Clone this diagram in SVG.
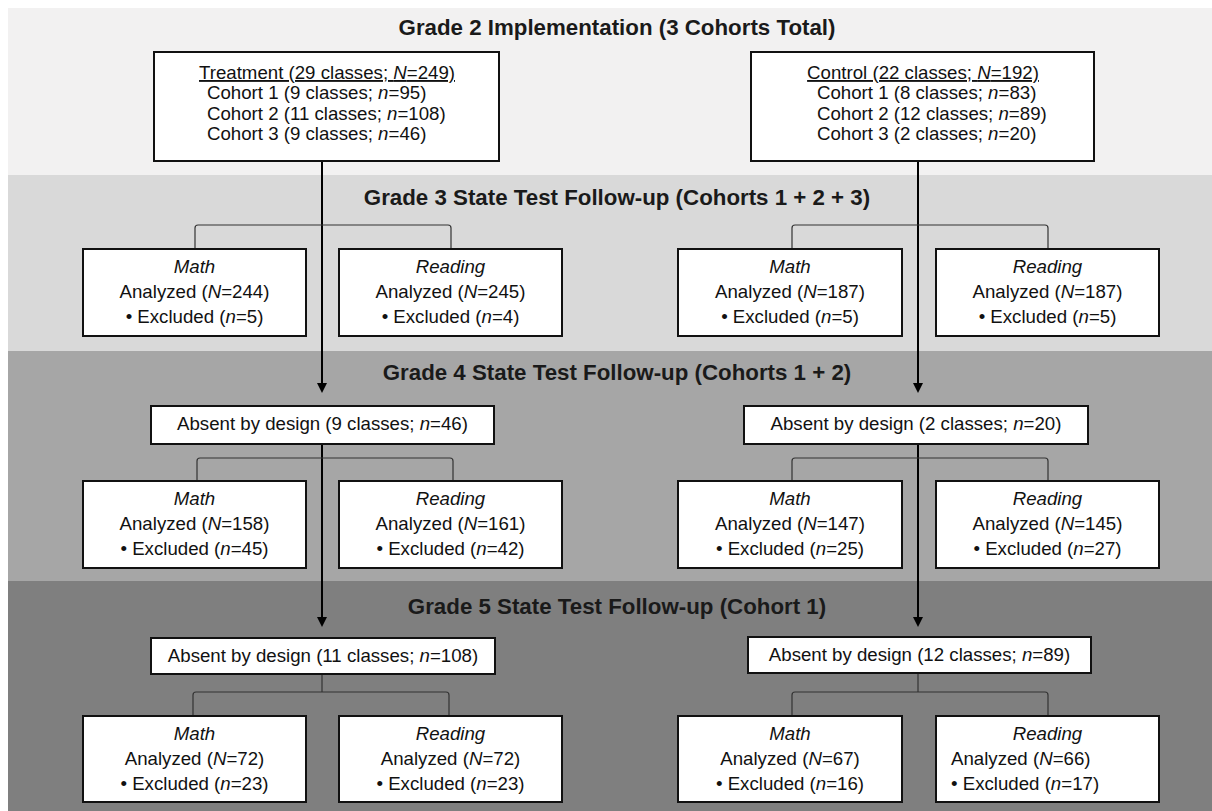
<svg xmlns="http://www.w3.org/2000/svg" width="1212" height="811" viewBox="0 0 1212 811">
<defs>
<marker id="ah" viewBox="0 0 10 10" refX="6" refY="5" markerWidth="10" markerHeight="10" markerUnits="userSpaceOnUse" orient="auto">
<path d="M0,0 L10,5 L0,10 z" fill="#000"/>
</marker>
</defs>
<style>
.t{font-family:"Liberation Sans",Arial,sans-serif;font-size:18.67px;fill:#111}
.c{text-anchor:middle}
.title{font-family:"Liberation Sans",Arial,sans-serif;font-size:22.3px;font-weight:bold;fill:#1a1a1a;text-anchor:middle}
.i{font-style:italic}
.box{fill:#fff;stroke:#111;stroke-width:2}
.arrow{stroke:#000;stroke-width:2;fill:none}
.br{stroke:#333;stroke-width:1.2;fill:none}
</style>
<rect x="0" y="0" width="1212" height="811" fill="#fff"/>
<g id="bands">
<rect x="8" y="8" width="1204" height="167" fill="#f2f1f1"/>
<rect x="8" y="175" width="1204" height="176" fill="#d9d9d9"/>
<rect x="8" y="351" width="1204" height="230" fill="#a6a6a6"/>
<rect x="8" y="581" width="1204" height="230" fill="#7f7f7f"/>
</g>
<g id="titles">
<text class="title" x="617" y="35">Grade 2 Implementation (3 Cohorts Total)</text>
<text class="title" x="617" y="205">Grade 3 State Test Follow-up (Cohorts 1 + 2 + 3)</text>
<text class="title" x="617" y="380">Grade 4 State Test Follow-up (Cohorts 1 + 2)</text>
<text class="title" x="617" y="614">Grade 5 State Test Follow-up (Cohort 1)</text>
</g>
<g id="connectors">
<line class="arrow" x1="322" y1="161" x2="322" y2="389" marker-end="url(#ah)"/>
<line class="arrow" x1="322" y1="444" x2="322" y2="623" marker-end="url(#ah)"/>
<line class="arrow" x1="918" y1="161" x2="918" y2="389" marker-end="url(#ah)"/>
<line class="arrow" x1="918" y1="444" x2="918" y2="623" marker-end="url(#ah)"/>
<path class="br" d="M195,249 V228 Q195,225 198,225 H448 Q451,225 451,228 V249"/>
<path class="br" d="M792,249 V228 Q792,225 795,225 H1045 Q1048,225 1048,228 V249"/>
<path class="br" d="M197,481 V461 Q197,458 200,458 H450 Q453,458 453,461 V481"/>
<path class="br" d="M792,481 V461 Q792,458 795,458 H1045 Q1048,458 1048,461 V481"/>
<path class="br" d="M322,674 V692"/>
<path class="br" d="M193,716 V695 Q193,692 196,692 H446 Q449,692 449,695 V716"/>
<path class="br" d="M918,673 V692"/>
<path class="br" d="M792,716 V695 Q792,692 795,692 H1045 Q1048,692 1048,695 V716"/>
</g>
<g id="treatment">
<rect class="box" x="154" y="52" width="345" height="109"/>
<text class="t c" x="327" y="79" text-decoration="underline">Treatment (29 classes; <tspan class="i">N</tspan>=249)</text>
<text class="t" x="207" y="99">Cohort 1 (9 classes; <tspan class="i">n</tspan>=95)</text>
<text class="t" x="207" y="120">Cohort 2 (11 classes; <tspan class="i">n</tspan>=108)</text>
<text class="t" x="207" y="140">Cohort 3 (9 classes; <tspan class="i">n</tspan>=46)</text>
</g>
<g id="control">
<rect class="box" x="751" y="52" width="343" height="109"/>
<text class="t c" x="923" y="79" text-decoration="underline">Control (22 classes; <tspan class="i">N</tspan>=192)</text>
<text class="t" x="817" y="99">Cohort 1 (8 classes; <tspan class="i">n</tspan>=83)</text>
<text class="t" x="817" y="120">Cohort 2 (12 classes; <tspan class="i">n</tspan>=89)</text>
<text class="t" x="817" y="140">Cohort 3 (2 classes; <tspan class="i">n</tspan>=20)</text>
</g>
<g id="g3-t-math">
<rect class="box" x="83" y="249" width="223" height="87"/>
<text class="t c i" x="194.5" y="273">Math</text>
<text class="t c" x="194.5" y="298">Analyzed (<tspan class="i">N</tspan>=244)</text>
<text class="t c" x="194.5" y="323">• Excluded (<tspan class="i">n</tspan>=5)</text>
</g>
<g id="g3-t-reading">
<rect class="box" x="339" y="249" width="223" height="87"/>
<text class="t c i" x="450.5" y="273">Reading</text>
<text class="t c" x="450.5" y="298">Analyzed (<tspan class="i">N</tspan>=245)</text>
<text class="t c" x="450.5" y="323">• Excluded (<tspan class="i">n</tspan>=4)</text>
</g>
<g id="g3-c-math">
<rect class="box" x="678" y="249" width="224" height="87"/>
<text class="t c i" x="790" y="273">Math</text>
<text class="t c" x="790" y="298">Analyzed (<tspan class="i">N</tspan>=187)</text>
<text class="t c" x="790" y="323">• Excluded (<tspan class="i">n</tspan>=5)</text>
</g>
<g id="g3-c-reading">
<rect class="box" x="936" y="249" width="223" height="87"/>
<text class="t c i" x="1047.5" y="273">Reading</text>
<text class="t c" x="1047.5" y="298">Analyzed (<tspan class="i">N</tspan>=187)</text>
<text class="t c" x="1047.5" y="323">• Excluded (<tspan class="i">n</tspan>=5)</text>
</g>
<g id="g4-t-absent">
<rect class="box" x="151" y="406" width="343" height="38"/>
<text class="t c" x="322.5" y="430">Absent by design (9 classes; <tspan class="i">n</tspan>=46)</text>
</g>
<g id="g4-c-absent">
<rect class="box" x="744" y="406" width="344" height="38"/>
<text class="t c" x="916" y="430">Absent by design (2 classes; <tspan class="i">n</tspan>=20)</text>
</g>
<g id="g4-t-math">
<rect class="box" x="83" y="481" width="223" height="87"/>
<text class="t c i" x="194.5" y="505">Math</text>
<text class="t c" x="194.5" y="530">Analyzed (<tspan class="i">N</tspan>=158)</text>
<text class="t c" x="194.5" y="555">• Excluded (<tspan class="i">n</tspan>=45)</text>
</g>
<g id="g4-t-reading">
<rect class="box" x="339" y="481" width="223" height="87"/>
<text class="t c i" x="450.5" y="505">Reading</text>
<text class="t c" x="450.5" y="530">Analyzed (<tspan class="i">N</tspan>=161)</text>
<text class="t c" x="450.5" y="555">• Excluded (<tspan class="i">n</tspan>=42)</text>
</g>
<g id="g4-c-math">
<rect class="box" x="678" y="481" width="224" height="87"/>
<text class="t c i" x="790" y="505">Math</text>
<text class="t c" x="790" y="530">Analyzed (<tspan class="i">N</tspan>=147)</text>
<text class="t c" x="790" y="555">• Excluded (<tspan class="i">n</tspan>=25)</text>
</g>
<g id="g4-c-reading">
<rect class="box" x="936" y="481" width="223" height="87"/>
<text class="t c i" x="1047.5" y="505">Reading</text>
<text class="t c" x="1047.5" y="530">Analyzed (<tspan class="i">N</tspan>=145)</text>
<text class="t c" x="1047.5" y="555">• Excluded (<tspan class="i">n</tspan>=27)</text>
</g>
<g id="g5-t-absent">
<rect class="box" x="151" y="638" width="344" height="36"/>
<text class="t c" x="323" y="662">Absent by design (11 classes; <tspan class="i">n</tspan>=108)</text>
</g>
<g id="g5-c-absent">
<rect class="box" x="748" y="637" width="343" height="36"/>
<text class="t c" x="919.5" y="661">Absent by design (12 classes; <tspan class="i">n</tspan>=89)</text>
</g>
<g id="g5-t-math">
<rect class="box" x="83" y="716" width="223" height="86"/>
<text class="t c i" x="194.5" y="740">Math</text>
<text class="t c" x="194.5" y="765">Analyzed (<tspan class="i">N</tspan>=72)</text>
<text class="t c" x="194.5" y="790">• Excluded (<tspan class="i">n</tspan>=23)</text>
</g>
<g id="g5-t-reading">
<rect class="box" x="339" y="716" width="223" height="86"/>
<text class="t c i" x="450.5" y="740">Reading</text>
<text class="t c" x="450.5" y="765">Analyzed (<tspan class="i">N</tspan>=72)</text>
<text class="t c" x="450.5" y="790">• Excluded (<tspan class="i">n</tspan>=23)</text>
</g>
<g id="g5-c-math">
<rect class="box" x="678" y="716" width="224" height="86"/>
<text class="t c i" x="790" y="740">Math</text>
<text class="t c" x="790" y="765">Analyzed (<tspan class="i">N</tspan>=67)</text>
<text class="t c" x="790" y="790">• Excluded (<tspan class="i">n</tspan>=16)</text>
</g>
<g id="g5-c-reading">
<rect class="box" x="936" y="716" width="223" height="86"/>
<text class="t c i" x="1047.5" y="740">Reading</text>
<text class="t" x="951" y="765">Analyzed (<tspan class="i">N</tspan>=66)</text>
<text class="t" x="951" y="790">• Excluded (<tspan class="i">n</tspan>=17)</text>
</g>
</svg>
